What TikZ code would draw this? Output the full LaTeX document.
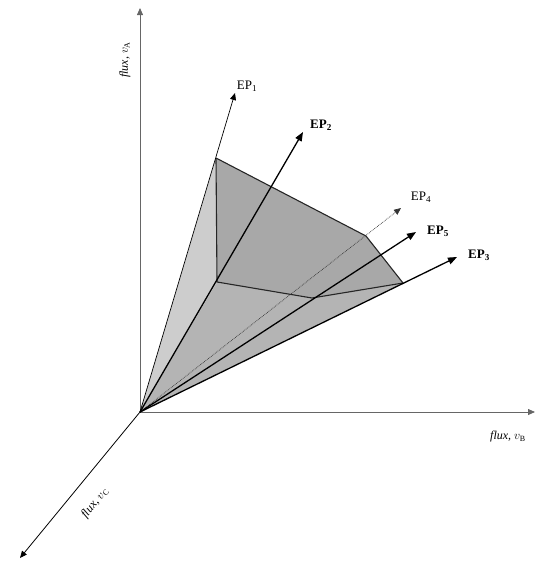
\documentclass[tikz,border=0pt]{standalone}
\usepackage{fontspec}
\setmainfont{Liberation Serif}
\usetikzlibrary{arrows.meta}
\definecolor{facelight}{HTML}{CDCDCD}
\definecolor{facedark}{HTML}{A8A8A8}
\definecolor{facemid}{HTML}{B4B4B4}
\begin{document}
\begin{tikzpicture}[x=1pt,y=-1pt,
  axisline/.style={draw=black!60,line width=0.8pt,-{Triangle[length=7pt,width=6pt]}},
  thinray/.style={draw=black,line width=0.7pt,-{Triangle[length=7pt,width=6pt]}},
  boldray/.style={draw=black,line width=1.3pt,-{Triangle[length=9pt,width=7pt]}},
  dotray/.style={draw=black!80,line width=0.7pt,densely dotted,-{Triangle[length=7pt,width=6pt]}},
  edge/.style={draw=black!85,line width=1.1pt},
  eplab/.style={font=\fontsize{13pt}{14pt}\selectfont,inner sep=1pt},
  epbold/.style={font=\fontsize{13pt}{14pt}\selectfont\bfseries,inner sep=1pt},
  axlab/.style={font=\fontsize{12pt}{13pt}\selectfont\itshape,inner sep=1pt}]
\useasboundingbox (0,0) rectangle (558,563);
% key points
\coordinate (O) at (140,412);
\coordinate (A) at (216,158);
\coordinate (B) at (366,236);
\coordinate (C) at (403,283);
\coordinate (D) at (217,282);
\coordinate (E) at (312,298);
% axis ends
\coordinate (Yend) at (140,8);
\coordinate (Xend) at (535,412);
\coordinate (Zend) at (20,558);
% ray tips
\coordinate (T1) at (235,93);
\coordinate (T2) at (303,132);
\coordinate (T4) at (401,208);
\coordinate (T5) at (416,232);
\coordinate (T3) at (457,257);
% faces
\fill[facelight] (O) -- (A) -- (D) -- cycle;
\fill[facemid] (O) -- (D) -- (E) -- (C) -- cycle;
\fill[facedark] (A) -- (B) -- (C) -- (E) -- (D) -- cycle;
% axes
\draw[axisline] (O) -- (Yend);
\draw[axisline] (O) -- (Xend);
\draw[axisline,draw=black] (O) -- (Zend);
% edges of section
\draw[edge] (A) -- (B) -- (C);
\draw[edge] (A) -- (D) -- (E) -- (C);
% rays
\draw[thinray] (O) -- (T1);
\draw[boldray] (O) -- (T2);
\draw[dotray] (O) -- (T4);
\draw[boldray] (O) -- (T5);
\draw[boldray] (O) -- (T3);
% ray labels
\node[eplab] (L1) at (247,86) {EP\textsubscript{1}};
\node[epbold] (L2) at (321,125) {EP\textsubscript{2}};
\node[eplab] (L4) at (421,197) {EP\textsubscript{4}};
\node[epbold] (L5) at (438,231) {EP\textsubscript{5}};
\node[epbold] (L3) at (479,255) {EP\textsubscript{3}};
% axis labels
\node[axlab,rotate=90] (LA) at (125,60) {flux, $v_{\mathrm{A}}$};
\node[axlab] (LB) at (508,437) {flux, $v_{\mathrm{B}}$};
\node[axlab,rotate=51] (LC) at (95,503) {flux, $v_{\mathrm{C}}$};
\end{tikzpicture}
\end{document}
